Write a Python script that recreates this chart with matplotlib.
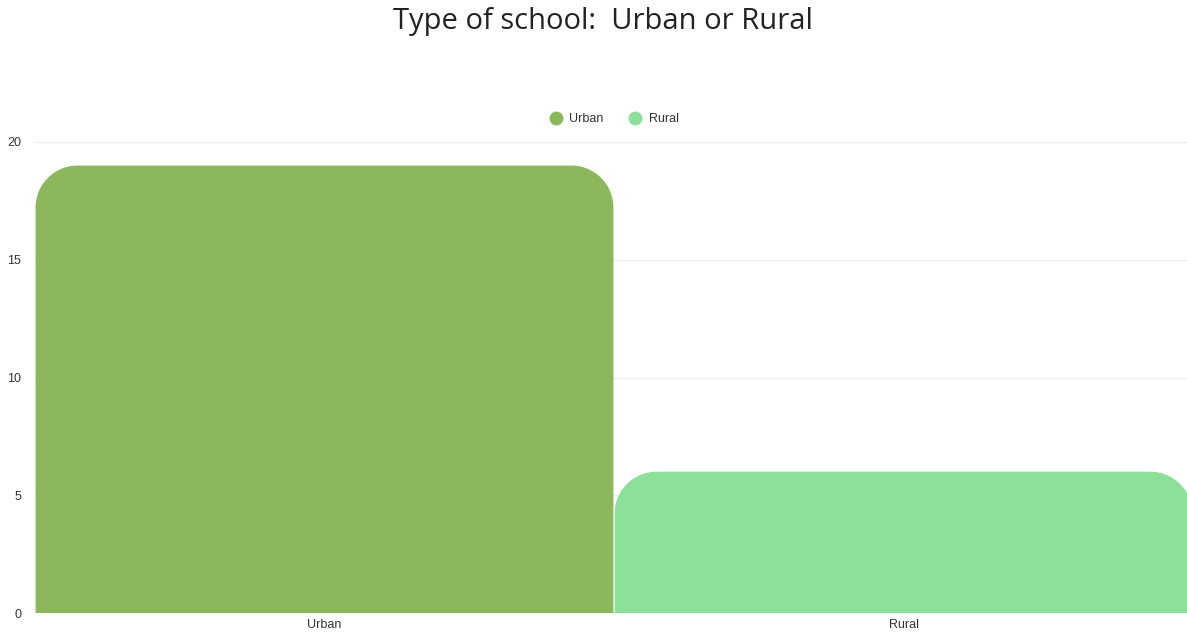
import matplotlib.pyplot as plt
from matplotlib.path import Path
from matplotlib.patches import PathPatch
from matplotlib.lines import Line2D

categories = ['Urban', 'Rural']
counts = [19, 6]
colors = ['#8cb85b', '#8ce09a']
yticks = [0, 5, 10, 15, 20]

W, H = 1187, 633
AX_L, AX_R, AX_T, AX_B = 35, 1193, 142, 613
fig = plt.figure(figsize=(W / 100, H / 100), dpi=100)
ax = fig.add_axes([AX_L / W, (H - AX_B) / H, (AX_R - AX_L) / W, (AX_B - AX_T) / H])

xmin, xmax = -0.5, len(categories) - 0.5
ymin, ymax = 0, 20
ax.set_xlim(xmin, xmax)
ax.set_ylim(ymin, ymax)

# corner radius in pixels, turned into data units on each axis
rad_px = 42
rx = rad_px * (xmax - xmin) / (AX_R - AX_L)
ry = rad_px * (ymax - ymin) / (AX_B - AX_T)
k = 0.5523


def rounded_bar(x0, x1, h):
    verts = [
        (x0, 0), (x0, h - ry),
        (x0, h - ry + k * ry), (x0 + rx - k * rx, h), (x0 + rx, h),
        (x1 - rx, h),
        (x1 - rx + k * rx, h), (x1, h - ry + k * ry), (x1, h - ry),
        (x1, 0), (x0, 0),
    ]
    codes = [Path.MOVETO, Path.LINETO,
             Path.CURVE4, Path.CURVE4, Path.CURVE4,
             Path.LINETO,
             Path.CURVE4, Path.CURVE4, Path.CURVE4,
             Path.LINETO, Path.CLOSEPOLY]
    return Path(verts, codes)


gap = 0.001
for i, (val, col) in enumerate(zip(counts, colors)):
    p = rounded_bar(i - 0.5 + gap, i + 0.5 - gap, val)
    ax.add_patch(PathPatch(p, facecolor=col, edgecolor='none', zorder=2))

for s in ax.spines.values():
    s.set_visible(False)
ax.set_yticks(yticks)
ax.yaxis.grid(True, color='#ececec', linewidth=1, zorder=0)
ax.set_axisbelow(True)
ax.tick_params(axis='both', length=0, labelsize=9, labelcolor='#333333')
ax.tick_params(axis='y', pad=10)
ax.tick_params(axis='x', pad=4)
ax.set_xticks(range(len(categories)))
ax.set_xticklabels(categories)
for lab in ax.get_xticklabels() + ax.get_yticklabels():
    lab.set_fontfamily('Liberation Sans')

fig.text(603 / W, 1 - 21 / H, 'Type of school:  Urban or Rural', ha='center', va='center',
         fontsize=21, fontfamily='Open Sans', color='#222222')

handles = [Line2D([], [], linestyle='none', marker='o', markersize=10,
                  markerfacecolor=c, markeredgecolor='none') for c in colors]
fig.legend(handles, categories, loc='center', bbox_to_anchor=(611 / W, 1 - 119 / H),
           ncol=2, frameon=False, handletextpad=0.1, columnspacing=1.5,
           prop={'family': 'Liberation Sans', 'size': 9}, labelcolor='#333333')

fig.savefig('out.png', dpi=100)
